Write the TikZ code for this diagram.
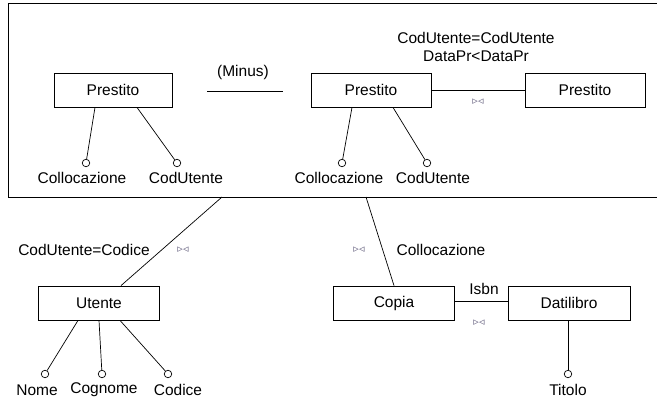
\documentclass[tikz,border=0pt]{standalone}
\usepackage{fontspec}
\setmainfont{Liberation Sans}
\newfontfamily\symfont{DejaVu Sans}
\definecolor{bowcol}{RGB}{105,100,130}
\begin{document}
\begin{tikzpicture}[x=1pt,y=-1pt,
  every node/.style={font=\fontsize{15.5}{18}\selectfont},
  ent/.style={draw,line width=0.8pt,minimum height=34pt,inner sep=0pt},
  att/.style={draw,circle,fill=white,line width=0.7pt,minimum size=7.5pt,inner sep=0pt},
  lbl/.style={inner sep=0pt},
  bow/.style={inner sep=0pt,text=bowcol,font=\symfont\fontsize{11}{12}\selectfont},
  conn/.style={line width=0.7pt}]
\useasboundingbox (0,0) rectangle (657,400);
% outer frame
\draw[line width=0.9pt] (660,3) -- (8,3) -- (8,197) -- (660,197);
% top row
\node[ent,minimum width=118pt] (p1) at (113,90) {Prestito};
\node[ent,minimum width=120pt] (p2) at (371,90) {Prestito};
\node[ent,minimum width=120pt] (p3) at (585,90) {Prestito};
\coordinate (m1) at (207,91);
\coordinate (m2) at (283,91);
\draw[conn] (m1) -- (m2);
\node[lbl] (minus) at (243,72) {(Minus)};
\draw[conn] (p2) -- (p3);
\node[bow] (b1) at (478,102) {▹◃};
\node[lbl,align=center] (jc) at (476,47) {CodUtente=CodUtente\\DataPr<DataPr};
% attributes of p1
\node[att] (c1) at (86,163) {};
\node[att] (c2) at (177,163) {};
\node[lbl] (t1) at (82,178) {Collocazione};
\node[lbl] (t2) at (186,178) {CodUtente};
\draw[conn] (p1.south -| 95,0) -- (c1);
\draw[conn] (p1.south -| 137,0) -- (c2);
% attributes of p2
\node[att] (c3) at (342,163) {};
\node[att] (c4) at (427,163) {};
\node[lbl] (t3) at (339,178) {Collocazione};
\node[lbl] (t4) at (433,178) {CodUtente};
\draw[conn] (p2.south -| 352,0) -- (c3);
\draw[conn] (p2.south -| 393,0) -- (c4);
% bottom
\node[ent,minimum width=121pt] (ut) at (99,303) {Utente};
\node[ent,minimum width=121pt] (co) at (394,303) {Copia};
\node[ent,minimum width=122pt] (dl) at (569,303) {Datilibro};
\coordinate (o1) at (222,197);
\coordinate (o2) at (366,197);
\draw[conn] (o1) -- (ut.north -| 121,0);
\draw[conn] (o2) -- (co.north);
\node[lbl] (l1) at (84,250) {CodUtente=Codice};
\node[bow] (b2) at (183,250) {▹◃};
\node[bow] (b3) at (359,250) {▹◃};
\node[lbl] (l2) at (441,250) {Collocazione};
\draw[conn] (co.east |- 0,301) -- (dl.west |- 0,301);
\node[lbl] (isbn) at (484,289) {Isbn};
\node[bow] (b4) at (479,323) {▹◃};
% Utente attributes
\node[att] (c5) at (45,374) {};
\node[att] (c6) at (102,374) {};
\node[att] (c7) at (168,374) {};
\node[lbl] (t5) at (37,390) {Nome};
\node[lbl] (t6) at (104,390) {Cognome};
\node[lbl] (t7) at (178,390) {Codice};
\draw[conn] (ut.south -| 78,0) -- (c5);
\draw[conn] (ut.south -| 99,0) -- (c6);
\draw[conn] (ut.south -| 120,0) -- (c7);
% Titolo
\node[att] (c8) at (568,374) {};
\node[lbl] (t8) at (568,390) {Titolo};
\draw[conn] (dl.south -| 568,0) -- (c8);
\end{tikzpicture}
\end{document}
